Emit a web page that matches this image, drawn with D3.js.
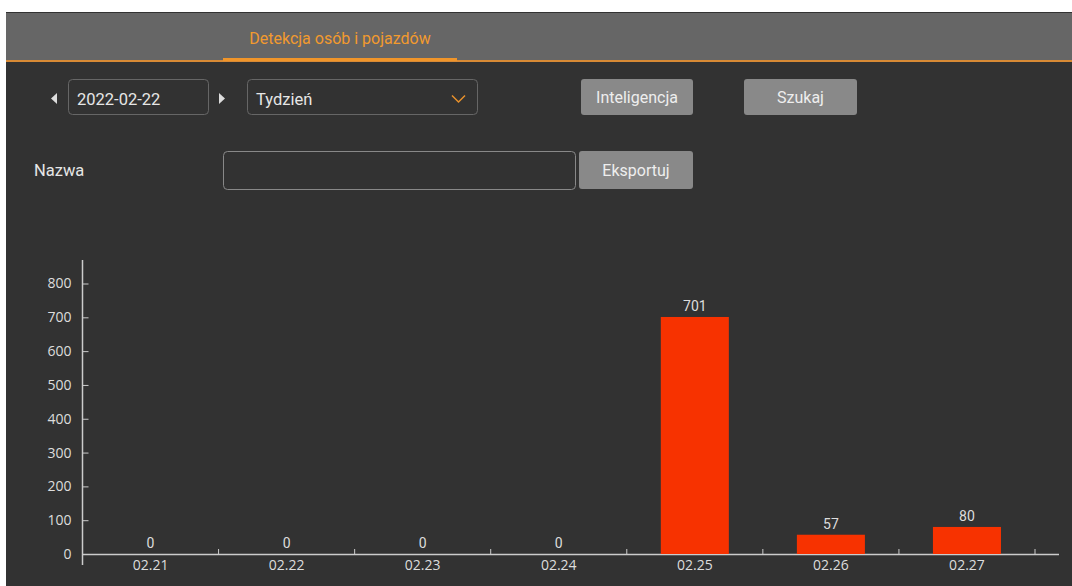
<!DOCTYPE html>
<html>
<head>
<meta charset="utf-8">
<script src="https://cdnjs.cloudflare.com/ajax/libs/d3/7.8.5/d3.min.js"></script>
<style>
  body { margin: 0; background: #fff; }
  text { font-family: Roboto, "Open Sans", sans-serif; }
  .ax text { font-family: "Open Sans", sans-serif; font-size: 14px; fill: #ddd; }
  .ax path, .ax line { stroke: #ccc; }
</style>
</head>
<body>
<div id="chart"></div>
<script>
var days = ["02.21", "02.22", "02.23", "02.24", "02.25", "02.26", "02.27"];
var counts = [0, 0, 0, 0, 701, 57, 80];
var yTicks = [0, 100, 200, 300, 400, 500, 600, 700, 800];

var W = 1072, H = 586;
var svg = d3.select("#chart").append("svg").attr("width", W).attr("height", H);

// panel + header
svg.append("rect").attr("x", 6).attr("y", 12).attr("width", W - 6).attr("height", H - 12).attr("fill", "#323232");
svg.append("rect").attr("x", 6).attr("y", 13).attr("width", W - 6).attr("height", 47).attr("fill", "#666");
svg.append("rect").attr("x", 6).attr("y", 60).attr("width", W - 6).attr("height", 2).attr("fill", "#d88a35");
svg.append("rect").attr("x", 223).attr("y", 58).attr("width", 234).attr("height", 3).attr("fill", "#f0952a");
svg.append("text").attr("x", 340).attr("y", 44).attr("text-anchor", "middle").attr("font-size", 16).attr("fill", "#f29a2e").text("Detekcja osób i pojazdów");

// date picker row
svg.append("path").attr("d", "M57,93 L51,98.5 L57,104 Z").attr("fill", "#ddd");
svg.append("path").attr("d", "M219,93 L225,98.5 L219,104 Z").attr("fill", "#ddd");
svg.append("rect").attr("x", 68.5).attr("y", 79.5).attr("width", 140).attr("height", 35).attr("rx", 4).attr("fill", "none").attr("stroke", "#666");
svg.append("text").attr("x", 77).attr("y", 105).attr("font-size", 16.5).attr("fill", "#e6e6e6").text("2022-02-22");
svg.append("rect").attr("x", 247.5).attr("y", 79.5).attr("width", 230).attr("height", 35).attr("rx", 4).attr("fill", "none").attr("stroke", "#666");
svg.append("text").attr("x", 256).attr("y", 105).attr("font-size", 16.5).attr("fill", "#e6e6e6").text("Tydzień");
svg.append("path").attr("d", "M452,95.5 L458.5,102 L465,95.5").attr("fill", "none").attr("stroke", "#e8912c").attr("stroke-width", 1.5);

function button(x, y, w, h, label) {
  svg.append("rect").attr("x", x).attr("y", y).attr("width", w).attr("height", h).attr("rx", 3).attr("fill", "#898989");
  svg.append("text").attr("x", x + w / 2).attr("y", y + h / 2 + 6).attr("text-anchor", "middle").attr("font-size", 16).attr("fill", "#eee").text(label);
}
button(581, 79, 112, 36, "Inteligencja");
button(744, 79, 113, 36, "Szukaj");

svg.append("text").attr("x", 34).attr("y", 176).attr("font-size", 16.5).attr("fill", "#e6e6e6").text("Nazwa");
svg.append("rect").attr("x", 223.5).attr("y", 151.5).attr("width", 352).attr("height", 38).attr("rx", 4).attr("fill", "none").attr("stroke", "#888");
button(579, 151, 114, 38, "Eksportuj");

// chart
var x0 = 82.5, x1 = 1035, y0 = 554, y1 = 283.5;
var x = d3.scaleBand().domain(days).range([x0, x1]).paddingInner(0).paddingOuter(0);
var y = d3.scaleLinear().domain([0, 800]).range([y0, y1]);

var gy = svg.append("g").attr("class", "ax").attr("transform", `translate(${x0},0)`)
  .call(d3.axisRight(y).tickValues(yTicks).tickSize(6).tickSizeOuter(0));
gy.select(".domain").remove();
gy.selectAll("text").attr("x", -11).attr("text-anchor", "end");
svg.append("line").attr("x1", x0).attr("x2", x0).attr("y1", 260).attr("y2", 565).attr("stroke", "#ccc").attr("stroke-width", 1.5);

var gx = svg.append("g").attr("class", "ax").attr("transform", `translate(0,${y0})`)
  .call(d3.axisBottom(x).tickSize(0).tickPadding(6));
gx.select(".domain").remove();
svg.append("line").attr("x1", x0).attr("x2", 1059).attr("y1", y0 + 0.5).attr("y2", y0 + 0.5).attr("stroke", "#ccc").attr("stroke-width", 1.5);
svg.append("g").selectAll("line").data(days.slice(1).concat(["end"])).join("line")
  .attr("x1", (d, i) => x0 + x.step() * (i + 1)).attr("x2", (d, i) => x0 + x.step() * (i + 1))
  .attr("y1", y0).attr("y2", y0 - 5).attr("stroke", "#ccc");

var bw = x.bandwidth() / 2;
svg.append("g").selectAll("rect").data(counts).join("rect")
  .attr("x", (d, i) => x(days[i]) + x.bandwidth() / 2 - bw / 2)
  .attr("y", d => y(d)).attr("width", bw).attr("height", d => y0 - y(d))
  .attr("fill", "#f73200");

svg.append("g").selectAll("text").data(counts).join("text")
  .attr("x", (d, i) => x(days[i]) + x.bandwidth() / 2)
  .attr("y", d => y(d) - 6).attr("text-anchor", "middle")
  .attr("font-family", "Open Sans, sans-serif").attr("font-size", 14).attr("fill", "#ddd")
  .text(d => d);
</script>
</body>
</html>
